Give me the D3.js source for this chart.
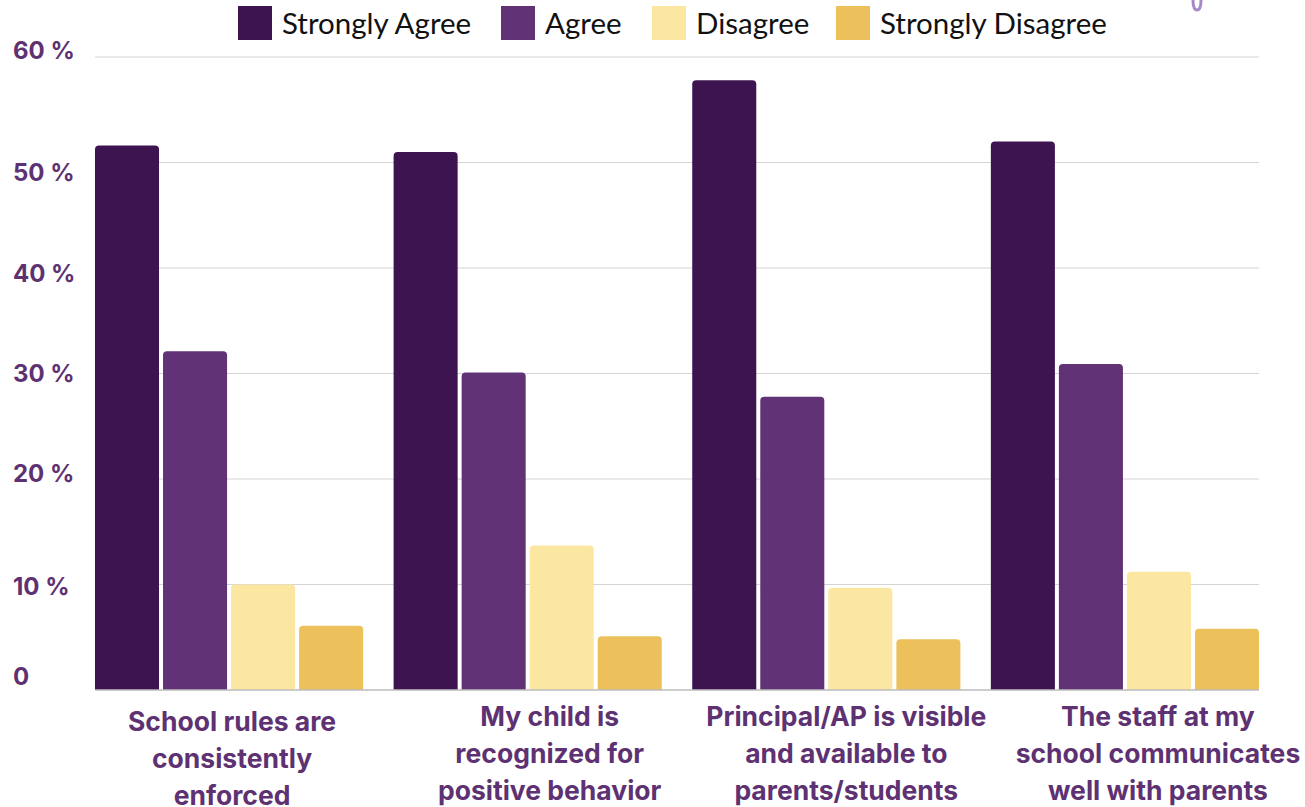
<!DOCTYPE html>
<html>
<head>
<meta charset="utf-8">
<script src="https://cdn.jsdelivr.net/npm/d3@7"></script>
<style>
  html, body { margin: 0; padding: 0; background: #ffffff; }
  svg { display: block; }
</style>
</head>
<body>
<svg id="chart" width="1305" height="807"></svg>
<script>
// ---- data ----
const categories = [
  ["School rules are", "consistently", "enforced"],
  ["My child is", "recognized for", "positive behavior"],
  ["Principal/AP is visible", "and available to", "parents/students"],
  ["The staff at my", "school communicates", "well with parents"]
];
const seriesNames = ["Strongly Agree", "Agree", "Disagree", "Strongly Disagree"];
const stronglyAgree    = [51.6, 51.0, 57.8, 52.0];
const agree            = [32.1, 30.1, 27.8, 30.9];
const disagree         = [10.0, 13.7, 9.7, 11.2];
const stronglyDisagree = [6.1, 5.1, 4.8, 5.8];
const yTicks = [0, 10, 20, 30, 40, 50, 60];
const yTickLabels = ["0", "10 %", "20 %", "30 %", "40 %", "50 %", "60 %"];

// ---- style / layout ----
const colors = ["#3d1450", "#613275", "#fce7a2", "#ecc15c"];
const textPurple = "#5e3272";
const labelDx = [3, 22, 20, 33];
const labelTop = [722, 717, 717, 717];
const tickLabelDy = [-14, 2, -6, 0, 5, 10, -7];

const series = [stronglyAgree, agree, disagree, stronglyDisagree];
const svg = d3.select("#chart");

const y = d3.scaleLinear().domain([0, 60]).range([690, 57]);
const x0 = d3.scaleBand().domain(d3.range(categories.length))
  .range([79.75, 1274.25]).paddingInner(0.102).paddingOuter(0.051);
const x1 = d3.scaleBand().domain(d3.range(seriesNames.length))
  .range([0, x0.bandwidth()]).paddingInner(0.0588).paddingOuter(0);

const gridX0 = x0(0), gridX1 = x0(categories.length - 1) + x0.bandwidth();

// gridlines
svg.append("g").selectAll("line").data(yTicks.filter(d => d > 0)).join("line")
  .attr("x1", gridX0).attr("x2", gridX1)
  .attr("y1", d => y(d)).attr("y2", d => y(d))
  .attr("stroke", "#d4d4d4").attr("stroke-width", 1.2);

// y tick labels
svg.append("g").selectAll("text").data(yTicks).join("text")
  .attr("x", 13).attr("y", (d, i) => y(d) + tickLabelDy[i])
  .attr("dominant-baseline", "central")
  .attr("font-family", "Inter, 'Open Sans', sans-serif")
  .attr("font-weight", 700).attr("font-size", 24)
  .attr("fill", textPurple)
  .text((d, i) => yTickLabels[i]);

// bars (rounded top corners)
function topRounded(x, yTop, w, h, r) {
  r = Math.min(r, h, w / 2);
  return `M${x},${yTop + h} V${yTop + r} Q${x},${yTop} ${x + r},${yTop} H${x + w - r} Q${x + w},${yTop} ${x + w},${yTop + r} V${yTop + h} Z`;
}
const groups = svg.append("g").selectAll("g").data(categories).join("g")
  .attr("transform", (d, i) => `translate(${x0(i)},0)`);
groups.selectAll("path").data((d, i) => series.map((s, j) => ({ v: s[i], j })))
  .join("path")
  .attr("d", d => topRounded(x1(d.j), y(d.v), x1.bandwidth(), y(0) - y(d.v), 4))
  .attr("fill", d => colors[d.j]);

// baseline
svg.append("line").attr("x1", gridX0).attr("x2", gridX1)
  .attr("y1", y(0)).attr("y2", y(0))
  .attr("stroke", "#bdbdbd").attr("stroke-width", 1.5);

// category labels
categories.forEach((lines, i) => {
  const cx = x0(i) + x0.bandwidth() / 2 + labelDx[i];
  svg.append("text")
    .attr("x", cx).attr("y", labelTop[i])
    .attr("text-anchor", "middle")
    .attr("font-family", "Inter, 'Open Sans', sans-serif")
    .attr("font-weight", 700).attr("font-size", 26.5)
    .attr("fill", textPurple)
    .selectAll("tspan").data(lines).join("tspan")
    .attr("x", cx)
    .attr("dy", (d, k) => k === 0 ? "0.35em" : 37)
    .text(d => d);
});

// legend
const legendX = [238, 501, 652, 836];
const legend = svg.append("g").selectAll("g").data(seriesNames).join("g")
  .attr("transform", (d, i) => `translate(${legendX[i]},6)`);
legend.append("rect").attr("width", 34).attr("height", 34)
  .attr("fill", (d, i) => colors[i]);
legend.append("text").attr("x", 44).attr("y", 16)
  .attr("dominant-baseline", "central")
  .attr("font-family", "Lato, sans-serif").attr("font-size", 29.5)
  .attr("fill", "#111111")
  .text(d => d);

// decorative fragment at top right
svg.append("path").attr("d", "M1193,0 Q1193,10 1197,10 Q1201,10 1201,0")
  .attr("fill", "none").attr("stroke", "#a887c4").attr("stroke-width", 3);
</script>
</body>
</html>
